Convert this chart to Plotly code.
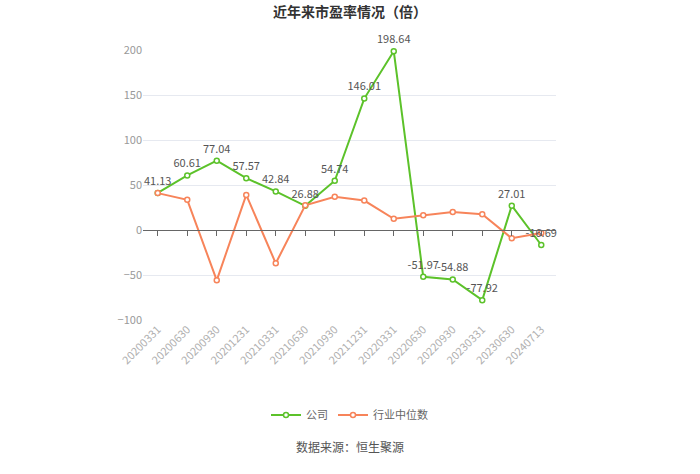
import plotly.graph_objects as go

categories = ["20200331", "20200630", "20200930", "20201231", "20210331", "20210630",
              "20210930", "20211231", "20220331", "20220630", "20220930", "20230331",
              "20230630", "20240713"]
company = [41.13, 60.61, 77.04, 57.57, 42.84, 26.88, 54.74, 146.01, 198.64,
           -51.97, -54.88, -77.92, 27.01, -16.69]
industry = [41.0, 33.5, -55.9, 39.0, -37.0, 27.5, 37.0, 32.7, 12.5, 16.5, 19.9, 17.6, -9.2, -3.3]
y_ticks = [-100, -50, 0, 50, 100, 150, 200]

GREEN = "#5cc22a"
ORANGE = "#f7845a"
FONT = "Noto Sans CJK SC, Microsoft YaHei, sans-serif"

fig = go.Figure()
fig.add_trace(go.Scatter(
    x=categories, y=company, name="公司", mode="lines+markers",
    line=dict(color=GREEN, width=2),
    marker=dict(symbol="circle", size=5, color="white", line=dict(color=GREEN, width=1.5)),
    cliponaxis=False,
))
fig.add_trace(go.Scatter(
    x=categories, y=industry, name="行业中位数", mode="lines+markers",
    line=dict(color=ORANGE, width=2),
    marker=dict(symbol="circle", size=5, color="white", line=dict(color=ORANGE, width=1.5)),
    cliponaxis=False,
))
# value labels for the company series, drawn on top of both lines
fig.add_trace(go.Scatter(
    x=categories, y=company, mode="markers+text", showlegend=False, hoverinfo="skip",
    marker=dict(size=7, color="rgba(0,0,0,0)"),
    text=[f"{v:.2f}" for v in company], textposition="top center",
    textfont=dict(size=11, color="#555555", family=FONT), cliponaxis=False,
))
# invisible trace to drive the zero-line axis with ticks
fig.add_trace(go.Scatter(x=categories, y=[None] * len(categories), xaxis="x2",
                         showlegend=False, hoverinfo="skip"))

fig.update_layout(
    width=700, height=474,
    margin=dict(l=143, r=144, t=50, b=154),
    paper_bgcolor="white", plot_bgcolor="white",
    font=dict(family=FONT, size=11, color="#999999"),
    title=dict(text="<b>近年来市盈率情况（倍）</b>", x=0.5, xanchor="center", y=0.975, yanchor="middle",
               font=dict(size=14, color="#333333", family=FONT)),
    xaxis=dict(type="category", tickangle=-45, showgrid=False, showline=False, ticks="",
               tickfont=dict(size=11, color="#b0b0b0"), range=[-0.5, len(categories) - 0.5]),
    xaxis2=dict(type="category", overlaying="x", anchor="free", position=1 / 3,
                showticklabels=False, ticks="outside", ticklen=5, tickcolor="#666666",
                showline=True, linecolor="#666666", linewidth=1, showgrid=False,
                range=[-0.5, len(categories) - 0.5]),
    yaxis=dict(range=[-100, 200], tickvals=y_ticks, showgrid=True, gridcolor="#e6e9f0",
               zeroline=False, showline=False, ticks="", tickfont=dict(size=11, color="#999999")),
    legend=dict(orientation="h", x=0.5, xanchor="center", y=-0.63, yanchor="middle",
                font=dict(size=11, color="#666666"), itemwidth=30),
    showlegend=True,
    annotations=[dict(text="数据来源：恒生聚源", x=0.5, xref="paper", y=-0.5, yref="paper",
                      showarrow=False, font=dict(size=12, color="#555555", family=FONT))],
)
fig.layout.annotations[0].y = -(457 - 320) / 270
fig.layout.legend.y = -(415 - 320) / 270

fig.write_html("out.html")
